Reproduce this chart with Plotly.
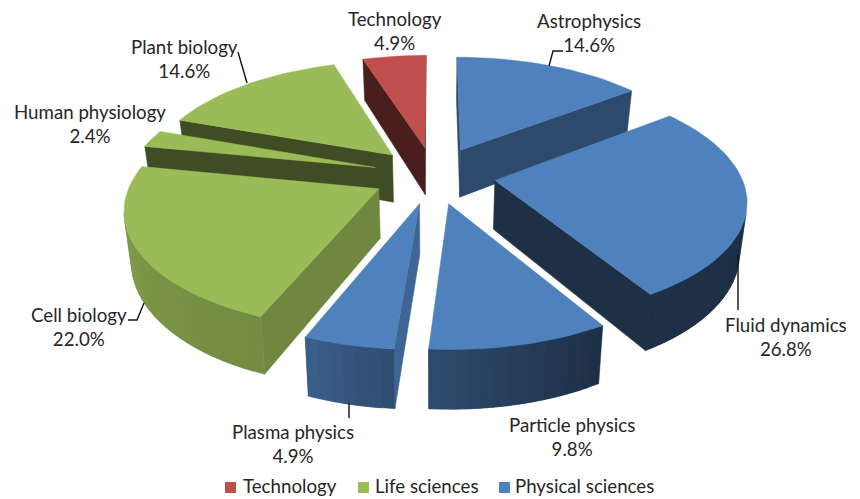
import numpy as np
import plotly.graph_objects as go

# Slices in clockwise order starting from twelve o'clock
names = ["Astrophysics", "Fluid dynamics", "Particle physics", "Plasma physics",
         "Cell biology", "Human physiology", "Plant biology", "Technology"]
shares = [14.6, 26.8, 9.8, 4.9, 22.0, 2.4, 14.6, 4.9]
groups = ["Physical sciences", "Physical sciences", "Physical sciences", "Physical sciences",
          "Life sciences", "Life sciences", "Life sciences", "Technology"]
legend_order = ["Technology", "Life sciences", "Physical sciences"]
group_rgb = {"Technology": (192, 80, 77), "Life sciences": (155, 187, 89),
             "Physical sciences": (79, 129, 189)}

# Brightness of each slice's radial wall relative to its top face
wall_light = [0.57, 0.37, 0.37, 0.78, 0.72, 0.41, 0.41, 0.38]
# Brightness of the rim as a function of the direction it faces (degrees)
rim_deg = [90, 150, 184, 202, 240, 270, 300]
rim_light = [0.37, 0.37, 0.58, 0.74, 0.80, 0.88, 0.88]

# Painter's order, far slices first
draw_order = [7, 6, 5, 4, 0, 1, 2, 3]

# Perspective camera for the tilted pie
CX, CY = 434, 175
RX, RY = 246, 114
PERSP = 0.151
DEPTH = 48.5
BOTTOM_SHRINK = 0.024
EXPLODE = 0.25
FONT = "Lato"
FONT_SIZE = 18.7
INK = "#262626"


def project(x, y, z):
    w = 1 / (1 + PERSP * y)
    sx = CX + RX * x * w
    sy = CY - RY * y * w
    return CX + (sx - CX) * (1 - BOTTOM_SHRINK * z), sy + DEPTH * w * z


def shade(rgb, k):
    return "rgb({},{},{})".format(*(int(round(c * k)) for c in rgb))


def polygon(points, color):
    xs, ys = zip(*points)
    return go.Scatter(x=list(xs) + [xs[0]], y=list(ys) + [ys[0]], mode="lines",
                      fill="toself", fillcolor=color, showlegend=False,
                      line=dict(color=color, width=0.5), hoverinfo="skip")


def faces_viewer(a, b, c, d):
    pts = [a, b, c, d]
    area = sum(pts[i][0] * pts[(i + 1) % 4][1] - pts[(i + 1) % 4][0] * pts[i][1] for i in range(4))
    return area < 0


fig = go.Figure()
edges = np.concatenate([[0], np.cumsum(shares)]) / sum(shares) * 360

for i in draw_order:
    a0, a1 = edges[i], edges[i + 1]
    mid = np.radians((a0 + a1) / 2)
    ox, oy = EXPLODE * np.sin(mid), EXPLODE * np.cos(mid)
    rgb = group_rgb[groups[i]]
    arc = np.linspace(a0, a1, max(3, int((a1 - a0) / 2.5) + 1))

    def rim(deg, z):
        t = np.radians(deg)
        return project(ox + np.sin(t), oy + np.cos(t), z)

    apex_top, apex_bot = project(ox, oy, 0), project(ox, oy, 1)

    # Radial walls
    for deg, flip in ((a0, False), (a1, True)):
        p, q = (rim(deg, 0), apex_top) if flip else (apex_top, rim(deg, 0))
        r, s = (apex_bot, rim(deg, 1)) if flip else (rim(deg, 1), apex_bot)
        if faces_viewer(p, q, r, s):
            fig.add_trace(polygon([p, q, r, s], shade(rgb, wall_light[i])))

    # Curved rim: narrow strips, each running under its neighbour so no seams show
    for j in range(len(arc) - 1):
        d0, d1 = arc[j], arc[j + 1]
        d2 = arc[min(j + 2, len(arc) - 1)]
        if faces_viewer(rim(d0, 0), rim(d1, 0), rim(d1, 1), rim(d0, 1)):
            k = np.interp((d0 + d1) / 2, rim_deg, rim_light)
            fig.add_trace(polygon([rim(d0, 0), rim(d2, 0), rim(d2, 1), rim(d0, 1)], shade(rgb, k)))

    # Top face
    top = [apex_top] + [rim(d, 0) for d in arc]
    fig.add_trace(polygon(top, shade(rgb, 1)))

# Legend row along the bottom edge
legend_x = [230.5, 363.5, 504.5]
legend_text_x = [243, 375, 515]
legend_y = 487.5
for g, lx in zip(legend_order, legend_x):
    fig.add_trace(go.Scatter(x=[lx], y=[legend_y], mode="markers", name=g,
                             showlegend=False, hoverinfo="skip",
                             marker=dict(symbol="square", size=11, color=shade(group_rgb[g], 1))))

# Data labels: centre of each two-line block
label_pos = [(589, 33), (786, 337), (572, 437), (293, 444),
             (79, 327), (90, 123.5), (184, 59), (395, 31)]
annotations = [
    dict(x=x, y=y, xref="x", yref="y", showarrow=False, align="center",
         text=f"{n}<br>{v:.1f}%", font=dict(family=FONT, size=FONT_SIZE, color=INK))
    for n, v, (x, y) in zip(names, shares, label_pos)
]
annotations += [
    dict(x=tx, y=486, xref="x", yref="y", showarrow=False, xanchor="left", xshift=-2,
         text=g, font=dict(family=FONT, size=FONT_SIZE, color=INK))
    for g, tx in zip(legend_order, legend_text_x)
]

# Leader lines
leaders = [
    [(563, 51), (553, 51), (549, 66)],
    [(738, 255), (738, 310)],
    [(349, 403), (349, 418)],
    [(128, 320), (137, 320), (144, 303)],
    [(238, 52), (247, 83)],
]
for pts in leaders:
    xs, ys = zip(*pts)
    fig.add_trace(go.Scatter(x=xs, y=ys, mode="lines", showlegend=False, hoverinfo="skip",
                             line=dict(color="#111111", width=1.4)))

fig.update_layout(
    width=860, height=499, margin=dict(l=0, r=0, t=0, b=0),
    paper_bgcolor="white", plot_bgcolor="white", showlegend=False,
    xaxis=dict(range=[0, 860], visible=False, fixedrange=True),
    yaxis=dict(range=[499, 0], visible=False, fixedrange=True),
    annotations=annotations,
)

fig.write_html("out.html")
